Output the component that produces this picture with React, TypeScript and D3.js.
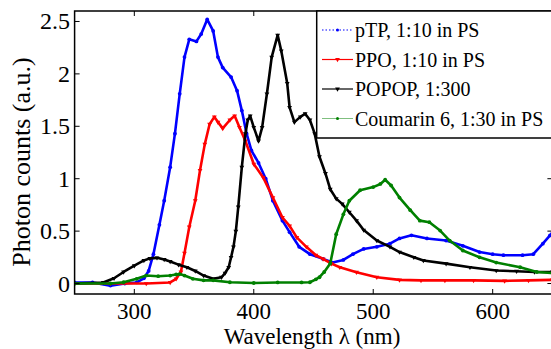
import React from 'react';
import * as d3 from 'd3';

// pTP, 1:10 in PS (blue)
const pTPWavelength = [250, 265, 280, 292, 302, 308, 312, 316, 321, 325, 330, 334, 338, 342, 346, 352, 356, 361, 366, 370, 374, 381, 386, 390, 394, 398, 404, 410, 416, 424, 430, 438, 447, 458, 466, 475, 483, 492, 503, 514, 522, 532, 545, 561, 575, 589, 600, 609, 625, 634, 642, 648, 650];
const pTPCounts = [0.01, 0.01, -0.02, 0.0, 0.01, 0.05, 0.12, 0.28, 0.56, 0.79, 1.11, 1.43, 1.81, 2.16, 2.33, 2.31, 2.38, 2.52, 2.41, 2.16, 2.06, 1.97, 1.84, 1.65, 1.43, 1.27, 1.15, 1.0, 0.79, 0.6, 0.49, 0.35, 0.28, 0.235, 0.2, 0.225, 0.28, 0.33, 0.35, 0.38, 0.43, 0.46, 0.43, 0.41, 0.36, 0.3, 0.28, 0.27, 0.27, 0.28, 0.38, 0.46, 0.48];

// PPO, 1:10 in PS (red)
const ppoWavelength = [250, 280, 310, 330, 335, 339, 342, 346, 351, 355, 359, 363, 367, 370, 374, 380, 384, 388, 393, 400, 408, 416, 424, 430, 436, 444, 452, 458, 465, 472, 486, 503, 522, 540, 560, 584, 610, 630, 650];
const ppoCounts = [0.0, 0.0, 0.0, 0.01, 0.045, 0.11, 0.29, 0.54, 0.79, 1.08, 1.33, 1.52, 1.59, 1.54, 1.48, 1.56, 1.6, 1.49, 1.36, 1.14, 1.01, 0.82, 0.63, 0.55, 0.44, 0.35, 0.27, 0.235, 0.19, 0.155, 0.108, 0.06, 0.035, 0.03, 0.03, 0.03, 0.025, 0.03, 0.035];

// POPOP, 1:300 (black)
const popopWavelength = [250, 274, 283, 291, 300, 308, 313, 319, 325, 330, 337, 344, 351, 358, 366, 373, 376, 379, 381, 383, 385, 387, 390, 393, 395, 397, 400, 404, 407, 411, 415, 420, 423, 428, 430, 434, 439, 443, 447, 451, 455, 460, 464, 469, 474, 480, 486, 492, 503, 514, 522, 534, 542, 561, 581, 603, 620, 635, 650];
const popopCounts = [0.0, 0.01, 0.05, 0.11, 0.17, 0.22, 0.24, 0.245, 0.23, 0.21, 0.18, 0.155, 0.12, 0.076, 0.045, 0.06, 0.1, 0.155, 0.25, 0.35, 0.5, 0.73, 1.11, 1.43, 1.56, 1.6, 1.49, 1.36, 1.49, 1.81, 2.16, 2.37, 2.22, 1.91, 1.68, 1.54, 1.59, 1.62, 1.56, 1.43, 1.21, 1.05, 0.9, 0.81, 0.76, 0.68, 0.6, 0.51, 0.41, 0.35, 0.3, 0.25, 0.22, 0.19, 0.155, 0.124, 0.117, 0.11, 0.11];

// Coumarin 6, 1:30 in PS (green)
const coumarinWavelength = [250, 280, 291, 302, 310, 320, 330, 335, 338, 342, 349, 358, 366, 380, 400, 420, 440, 447, 452, 455, 459, 464, 469, 475, 480, 489, 500, 506, 510, 515, 522, 531, 539, 547, 556, 564, 575, 589, 603, 623, 637, 650];
const coumarinCounts = [0.0, 0.0, 0.012, 0.045, 0.076, 0.07, 0.076, 0.086, 0.09, 0.076, 0.045, 0.03, 0.03, 0.012, 0.005, 0.01, 0.01, 0.012, 0.04, 0.06, 0.11, 0.19, 0.47, 0.66, 0.79, 0.89, 0.92, 0.95, 0.99, 0.935, 0.82, 0.7, 0.6, 0.585, 0.505, 0.41, 0.315, 0.25, 0.2, 0.155, 0.11, 0.1];

const seriesLabels = ['pTP, 1:10 in PS', 'PPO, 1:10 in PS', 'POPOP, 1:300', 'Coumarin 6, 1:30 in PS'];
const xTicks = [300, 400, 500, 600];
const yTicks = [0, 0.5, 1, 1.5, 2, 2.5];

const FONT = "'Liberation Serif', 'Times New Roman', Times, serif";

const width = 551;
const height = 349;
const left = 74.6;
const right = 552.4;
const top = 11;
const bottom = 294;

const x = d3.scaleLinear().domain([250, 650]).range([left, right]);
const y = d3.scaleLinear().domain([-0.1, 2.6]).range([bottom, top]);

const series = [
  { wl: pTPWavelength, v: pTPCounts, color: '#0000ff', marker: 'dot', dash: '1.5,2' },
  { wl: ppoWavelength, v: ppoCounts, color: '#ff0000', marker: 'tri', dash: undefined },
  { wl: popopWavelength, v: popopCounts, color: '#000000', marker: 'tri', dash: undefined },
  { wl: coumarinWavelength, v: coumarinCounts, color: '#008000', marker: 'dot', dash: undefined },
];

const line = d3
  .line<[number, number]>()
  .x((d) => x(d[0]))
  .y((d) => y(d[1]));

const tri = d3.symbol().type(d3.symbolTriangle).size(10)() as string;

function Marker({ kind, cx, cy, color, r = 1.9 }: { kind: string; cx: number; cy: number; color: string; r?: number }) {
  if (kind === 'dot') return <circle cx={cx} cy={cy} r={r} fill={color} />;
  return <path d={tri} transform={`translate(${cx},${cy}) rotate(180)`} fill={color} />;
}

export default function App() {
  const legendRows = [30, 59.5, 89, 118.5];
  const textStyle = { fontFamily: FONT };

  return (
    <svg width={width} height={height} style={{ position: 'absolute', left: 0, top: 0, fontFamily: FONT }}>
      <rect width={width} height={height} fill="#fff" />
      <defs>
        <clipPath id="plot-clip">
          <rect x={left} y={top} width={right - left} height={bottom - top} />
        </clipPath>
      </defs>

      <g clipPath="url(#plot-clip)">
        {series.map((s, si) => {
          const pts: [number, number][] = s.wl.map((w, i) => [w, s.v[i]]);
          return (
            <g key={si}>
              <path d={line(pts) ?? ''} fill="none" stroke={s.color} strokeWidth={2.6} strokeLinejoin="round" />
              {pts.map((d, i) => (
                <Marker key={i} kind={s.marker} cx={x(d[0])} cy={y(d[1])} color={s.color} />
              ))}
            </g>
          );
        })}
      </g>

      {/* axes box, right edge just outside the window */}
      <rect x={left} y={top} width={right - left} height={bottom - top} fill="none" stroke="#000" strokeWidth={1.5} />

      {xTicks.map((t) => (
        <g key={t}>
          <line x1={x(t)} x2={x(t)} y1={bottom} y2={bottom - 5} stroke="#000" />
          <line x1={x(t)} x2={x(t)} y1={top} y2={top + 5} stroke="#000" />
          <text x={x(t)} y={318.5} textAnchor="middle" fontSize={23} fontFamily={FONT} style={textStyle}>
            {t}
          </text>
        </g>
      ))}

      {yTicks.map((t) => (
        <g key={t}>
          <line x1={left} x2={left + 5} y1={y(t)} y2={y(t)} stroke="#000" />
          <line x1={right} x2={right - 5} y1={y(t)} y2={y(t)} stroke="#000" />
          <text x={70} y={y(t) + 8} textAnchor="end" fontSize={24} fontFamily={FONT} style={textStyle}>
            {t}
          </text>
        </g>
      ))}

      <text x={312} y={344} textAnchor="middle" fontSize={23} fontFamily={FONT} style={textStyle}>
        Wavelength λ (nm)
      </text>
      <text transform="translate(30, 162) rotate(-90)" textAnchor="middle" fontSize={26} fontFamily={FONT} style={textStyle}>
        Photon counts (a.u.)
      </text>

      {/* legend */}
      <rect x={316.7} y={top} width={260} height={127} fill="#fff" stroke="#000" strokeWidth={1.5} />
      {series.map((s, i) => {
        const yy = legendRows[i];
        return (
          <g key={i}>
            <line
              x1={322}
              x2={353}
              y1={yy}
              y2={yy}
              stroke={s.color}
              strokeWidth={i === 3 ? 1 : 1.2}
              strokeOpacity={i === 3 ? 0.5 : 1}
              strokeDasharray={s.dash}
            />
            <Marker kind={s.marker} cx={337.5} cy={yy} color={s.color} r={1.5} />
            <text x={355} y={yy + 7} fontSize={20} fontFamily={FONT} style={textStyle}>
              {seriesLabels[i]}
            </text>
          </g>
        );
      })}
    </svg>
  );
}
